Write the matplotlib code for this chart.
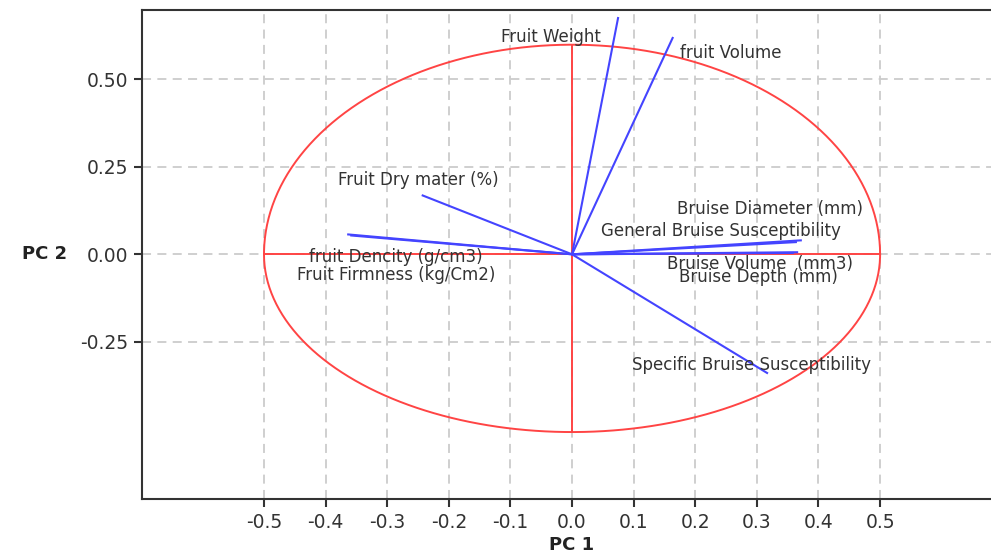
import numpy as np
import matplotlib
matplotlib.use("Agg")
import matplotlib.pyplot as plt

# ---- data ----
variables = [
    "Fruit Weight", "fruit Volume", "Fruit Dry mater (%)",
    "fruit Dencity (g/cm3)", "Fruit Firmness (kg/Cm2)",
    "Bruise Diameter (mm)", "General Bruise Susceptibility",
    "Bruise Volume  (mm3)", "Bruise Depth (mm)",
    "Specific Bruise Susceptibility",
]
pc1_loadings = [0.075, 0.164, -0.244, -0.365, -0.360, 0.373, 0.365, 0.367, 0.360, 0.318]
pc2_loadings = [0.677, 0.620, 0.169, 0.057, 0.054, 0.040, 0.035, 0.006, 0.004, -0.340]
label_x = [-0.115, 0.175, -0.380, -0.427, -0.446, 0.171, 0.047, 0.154, 0.174, 0.097]
label_y = [0.620, 0.574, 0.211, -0.009, -0.060, 0.129, 0.066, -0.029, -0.066, -0.317]

x_ticks = [-0.5, -0.4, -0.3, -0.2, -0.1, 0.0, 0.1, 0.2, 0.3, 0.4, 0.5]
y_ticks = [-0.25, 0.0, 0.25, 0.50]
x_tick_labels = ["-0.5", "-0.4", "-0.3", "-0.2", "-0.1", "0.0", "0.1", "0.2", "0.3", "0.4", "0.5"]
y_tick_labels = ["-0.25", "0.00", "0.25", "0.50"]

circle_rx = 0.5
circle_ry_top = 0.598
circle_ry_bottom = 0.507

# ---- figure ----
W, H = 991, 558
fig = plt.figure(figsize=(W / 100, H / 100), dpi=100)
fig.patch.set_facecolor("white")
ax = fig.add_axes([142 / W, (H - 499) / H, (W - 142) / W, (499 - 10) / H])
ax.set_xlim(-0.698, 0.680)
ax.set_ylim(-0.698, 0.697)

ax.set_xticks(x_ticks)
ax.set_xticklabels(x_tick_labels)
ax.set_yticks(y_ticks)
ax.set_yticklabels(y_tick_labels)
ax.tick_params(axis="both", direction="out", length=6, width=1.5, color="#333333",
               labelsize=13.5, labelcolor="#333333", pad=4)
ax.grid(True, color="#cccccc", linestyle=(0, (5, 3.5)), linewidth=1.3)
ax.set_axisbelow(True)
for side in ["left", "top", "bottom"]:
    ax.spines[side].set_color("#333333")
    ax.spines[side].set_linewidth(1.5)
ax.spines["right"].set_visible(False)

red = "#ff4444"
blue = "#4444ff"
# ellipse (upper and lower halves)
t_up = np.linspace(0, np.pi, 200)
t_dn = np.linspace(np.pi, 2 * np.pi, 200)
ax.plot(circle_rx * np.cos(t_up), circle_ry_top * np.sin(t_up), color=red, lw=1.4)
ax.plot(circle_rx * np.cos(t_dn), circle_ry_bottom * np.sin(t_dn), color=red, lw=1.4)
ax.plot([-circle_rx, circle_rx], [0, 0], color=red, lw=1.4)
ax.plot([0, 0], [-circle_ry_bottom, circle_ry_top], color=red, lw=1.4)

for x, y in zip(pc1_loadings, pc2_loadings):
    ax.plot([0, x], [0, y], color=blue, lw=1.5, solid_capstyle="butt")

for name, lx, ly in zip(variables, label_x, label_y):
    ax.text(lx, ly, name, ha="left", va="center", fontsize=12, color="#333333")

ax.set_xlabel("PC 1", fontsize=13, fontweight="bold", color="#222222", va="center")
ax.xaxis.set_label_coords((572 - 142) / (W - 142), -46 / 489)
ax.set_ylabel("PC 2", fontsize=13, fontweight="bold", color="#222222",
              rotation=0, ha="right", va="center")
ax.yaxis.set_label_coords((67 - 142) / (W - 142), 0.501)

fig.savefig("out.png", dpi=100, facecolor="white")
